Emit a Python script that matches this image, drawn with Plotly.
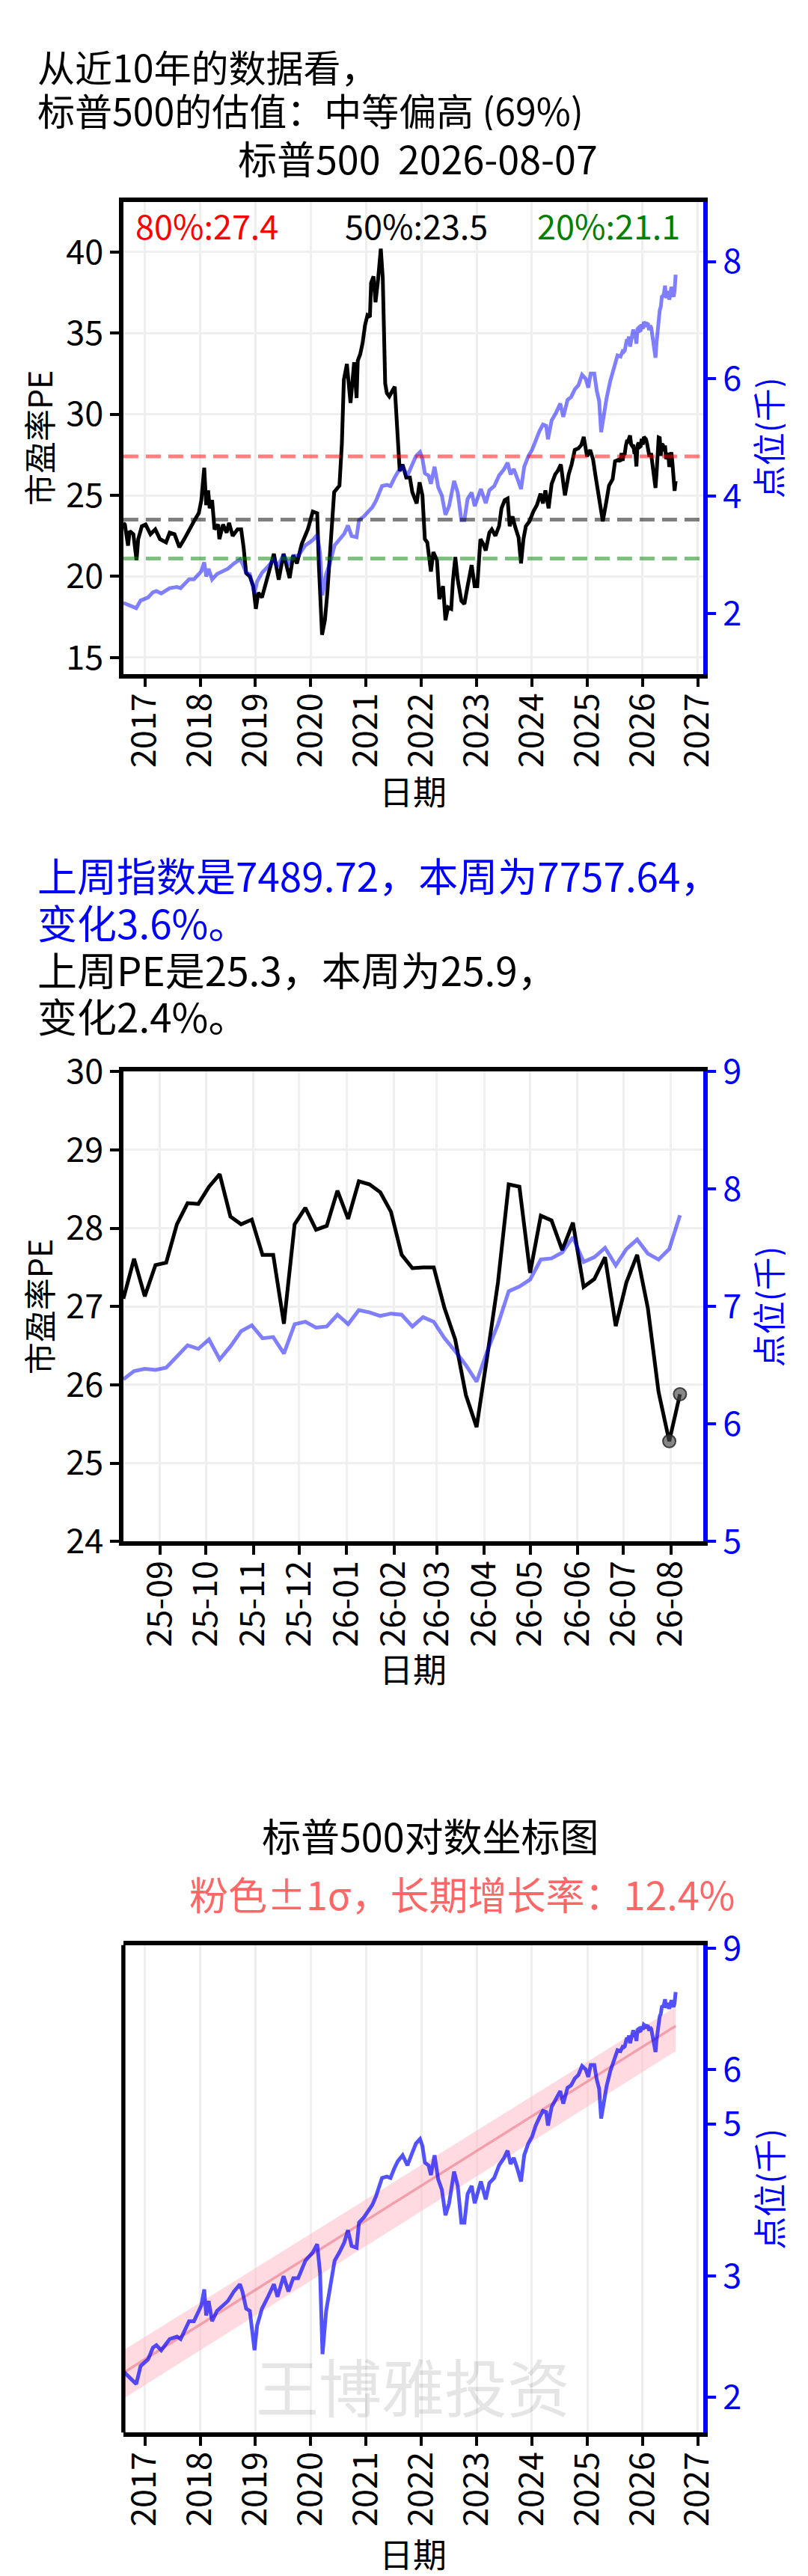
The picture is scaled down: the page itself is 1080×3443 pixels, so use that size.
import math
import pandas as pd
import plotly.graph_objects as go

W, H = 1080, 3443
FONT = "Noto Sans CJK SC"

# ---------------- data ----------------
PE_HIST_DATES = [
    "2016-08-12", "2016-08-22", "2016-09-12", "2016-09-23", "2016-10-17", "2016-11-07", "2016-11-18",
    "2016-12-12", "2017-01-06", "2017-02-07", "2017-03-11", "2017-04-11", "2017-05-21", "2017-06-14",
    "2017-07-16", "2017-08-17", "2017-09-18", "2017-10-20", "2017-11-21", "2017-12-23", "2018-01-09",
    "2018-01-28", "2018-02-10", "2018-02-23", "2018-03-05", "2018-03-21", "2018-04-06", "2018-04-30",
    "2018-05-08", "2018-06-01", "2018-06-25", "2018-07-11", "2018-08-04", "2018-09-05", "2018-09-29",
    "2018-10-15", "2018-11-01", "2018-11-25", "2018-12-18", "2019-01-04", "2019-01-20", "2019-02-13",
    "2019-03-08", "2019-04-01", "2019-05-03", "2019-06-04", "2019-07-06", "2019-08-15", "2019-09-08",
    "2019-10-02", "2019-11-03", "2019-12-13", "2020-01-15", "2020-02-13", "2020-02-24", "2020-03-16",
    "2020-04-04", "2020-04-20", "2020-05-06", "2020-05-22", "2020-06-04", "2020-07-09", "2020-07-25",
    "2020-08-07", "2020-08-27", "2020-09-20", "2020-10-14", "2020-10-30", "2020-11-07", "2020-11-23",
    "2020-12-09", "2020-12-25", "2021-01-10", "2021-01-26", "2021-02-03", "2021-02-19", "2021-03-04",
    "2021-03-20", "2021-04-08", "2021-04-21", "2021-05-07", "2021-05-18", "2021-06-03", "2021-07-09",
    "2021-07-29", "2021-08-11", "2021-08-30", "2021-09-23", "2021-10-17", "2021-11-02", "2021-12-01",
    "2021-12-20", "2022-01-08", "2022-01-24", "2022-02-09", "2022-03-05", "2022-03-21", "2022-04-14",
    "2022-04-30", "2022-05-24", "2022-06-09", "2022-06-26", "2022-07-17", "2022-07-28", "2022-08-13",
    "2022-08-29", "2022-09-22", "2022-10-12", "2022-11-02", "2022-11-29", "2022-12-19", "2023-01-05",
    "2023-01-26", "2023-02-14", "2023-03-02", "2023-03-26", "2023-04-11", "2023-05-05", "2023-05-29",
    "2023-06-14", "2023-07-05", "2023-07-24", "2023-08-07", "2023-08-26", "2023-09-11", "2023-10-05",
    "2023-10-21", "2023-11-06", "2023-11-22", "2023-12-16", "2024-01-10", "2024-02-03", "2024-02-27",
    "2024-03-14", "2024-03-30", "2024-04-20", "2024-05-10", "2024-06-03", "2024-06-19", "2024-07-10",
    "2024-08-06", "2024-08-31", "2024-09-19", "2024-10-10", "2024-11-03", "2024-11-22", "2024-12-08",
    "2024-12-30", "2025-01-20", "2025-02-08", "2025-02-24", "2025-03-20", "2025-04-13", "2025-05-08",
    "2025-05-24", "2025-06-17", "2025-07-03", "2025-07-27",
]
PE_HIST = [
    23.3, 23.2, 21.9, 22.8, 22.6, 21.0, 22.3,
    23.1, 23.2, 22.6, 22.9, 22.3, 22.1, 22.7,
    22.6, 21.8, 22.3, 22.9, 23.4, 23.9, 24.7,
    26.7, 24.4, 25.3, 24.2, 24.7, 22.9, 23.2,
    22.3, 23.2, 22.7, 23.3, 22.5, 22.9, 22.9,
    21.8, 20.2, 20.0, 19.4, 18.0, 19.0, 18.7,
    19.5, 20.5, 21.4, 19.8, 21.4, 19.9, 21.3,
    20.8, 22.0, 22.9, 24.0, 23.9, 20.7, 16.4,
    17.3, 19.0, 21.5, 23.1, 25.2, 25.6, 28.2,
    32.1, 33.1, 30.7, 33.2, 31.0, 33.3, 33.7,
    34.4, 35.5, 36.1, 36.0, 38.1, 38.5, 36.9,
    38.2, 40.2, 38.4, 31.9, 31.3, 31.1, 31.7,
    28.5, 26.5, 26.9, 26.1, 26.1, 25.2, 24.5,
    25.8, 25.0, 22.3, 22.1, 20.3, 21.5, 21.0,
    18.6, 19.4, 17.3, 18.1, 18.0, 19.7, 21.2,
    19.8, 18.5, 18.3, 19.4, 20.7, 19.4, 19.4,
    22.3, 22.0, 21.6, 22.7, 22.9, 22.5, 23.1,
    24.2, 24.7, 24.8, 23.1, 23.7, 23.1, 22.4,
    20.8, 22.3, 23.1, 23.4, 24.0, 24.4, 25.1,
    24.5, 25.3, 24.2, 25.7, 26.3, 26.5, 26.9,
    25.0, 26.3, 26.9, 27.8, 27.9, 28.1, 28.6,
    27.4, 27.8, 27.2, 26.2, 24.8, 23.4, 24.7,
    25.6, 26.0, 27.1, 27.2,
]

PX_HIST_DATES = [
    "2016-08-12", "2016-10-01", "2016-11-05", "2016-12-04", "2017-01-22", "2017-02-23", "2017-03-18",
    "2017-04-19", "2017-06-14", "2017-08-01", "2017-08-25", "2017-10-20", "2017-11-21", "2017-12-23",
    "2018-01-09", "2018-01-28", "2018-02-10", "2018-02-26", "2018-03-21", "2018-04-22", "2018-06-01",
    "2018-07-03", "2018-08-12", "2018-09-21", "2018-10-07", "2018-11-01", "2018-11-25", "2018-12-26",
    "2019-01-12", "2019-02-13", "2019-03-25", "2019-05-03", "2019-05-27", "2019-07-06", "2019-08-07",
    "2019-09-08", "2019-10-10", "2019-11-27", "2020-01-15", "2020-02-13", "2020-03-03", "2020-03-19",
    "2020-04-12", "2020-05-06", "2020-06-07", "2020-07-09", "2020-08-10", "2020-09-03", "2020-09-27",
    "2020-10-30", "2020-11-15", "2020-12-16", "2021-01-18", "2021-02-11", "2021-03-07", "2021-04-16",
    "2021-05-18", "2021-06-11", "2021-07-05", "2021-07-29", "2021-08-30", "2021-10-01", "2021-11-02",
    "2021-11-26", "2021-12-23", "2022-01-08", "2022-01-24", "2022-02-17", "2022-03-05", "2022-03-29",
    "2022-04-22", "2022-05-16", "2022-06-09", "2022-07-03", "2022-08-05", "2022-08-29", "2022-09-22",
    "2022-10-12", "2022-11-02", "2022-11-29", "2022-12-19", "2023-01-29", "2023-03-02", "2023-03-26",
    "2023-04-27", "2023-05-29", "2023-07-01", "2023-07-24", "2023-08-13", "2023-09-03", "2023-09-27",
    "2023-10-21", "2023-11-11", "2023-12-08", "2024-01-02", "2024-01-26", "2024-02-20", "2024-03-14",
    "2024-04-04", "2024-04-16", "2024-05-10", "2024-06-08", "2024-07-06", "2024-07-26", "2024-08-23",
    "2024-09-16", "2024-10-10", "2024-11-03", "2024-11-27", "2024-12-21", "2025-01-07", "2025-01-23",
    "2025-02-16", "2025-03-04", "2025-03-20", "2025-04-02", "2025-04-18", "2025-05-08", "2025-06-01",
    "2025-06-30", "2025-07-19",
]
PX_HIST = [
    2.18, 2.13, 2.09, 2.22, 2.27, 2.36, 2.38,
    2.34, 2.43, 2.45, 2.43, 2.58, 2.58, 2.67,
    2.72, 2.87, 2.63, 2.76, 2.58, 2.67, 2.72,
    2.76, 2.85, 2.92, 2.85, 2.69, 2.67, 2.34,
    2.54, 2.69, 2.80, 2.92, 2.80, 3.00, 2.85,
    2.98, 2.98, 3.16, 3.25, 3.34, 3.03, 2.31,
    2.67, 2.85, 3.16, 3.25, 3.36, 3.50, 3.32,
    3.30, 3.59, 3.65, 3.74, 3.81, 3.92, 4.17,
    4.19, 4.17, 4.30, 4.41, 4.50, 4.35, 4.54,
    4.68, 4.75, 4.64, 4.39, 4.35, 4.21, 4.50,
    4.15, 4.01, 3.68, 3.83, 4.26, 4.06, 3.59,
    3.59, 3.95, 4.06, 3.83, 4.12, 3.88, 4.10,
    4.17, 4.35, 4.46, 4.57, 4.37, 4.46, 4.30,
    4.12, 4.50, 4.68, 4.79, 4.97, 5.11, 5.22,
    5.20, 4.97, 5.29, 5.42, 5.58, 5.35, 5.64,
    5.69, 5.82, 5.89, 6.07, 6.00, 5.85, 6.09,
    6.09, 5.80, 5.62, 5.09, 5.35, 5.67, 5.96,
    6.25, 6.40,
]

# last 53 weekly closes (2025-08-08 .. 2026-08-07)
WEEK_DATES = list(pd.date_range("2025-08-08", "2026-08-07", freq="7D").strftime("%Y-%m-%d"))
WEEK_PE = [
    27.10, 27.61, 27.13, 27.53, 27.56, 28.05, 28.32, 28.31, 28.53, 28.69,
    28.15, 28.05, 28.11, 27.66, 27.66, 26.78, 28.05, 28.26, 27.98, 28.03,
    28.48, 28.12, 28.60, 28.56, 28.46, 28.21, 27.66, 27.49, 27.50, 27.50,
    26.98, 26.58, 25.87, 25.46, 26.37, 27.31, 28.56, 28.53, 27.43, 28.16,
    28.10, 27.72, 28.07, 27.25, 27.35, 27.63, 26.75, 27.31, 27.66, 26.98,
    25.91, 25.28, 25.88,
]
WEEK_PX = [
    6.38, 6.45, 6.47, 6.46, 6.48, 6.58, 6.67, 6.64, 6.72, 6.55,
    6.66, 6.79, 6.84, 6.73, 6.74, 6.60, 6.85, 6.87, 6.82, 6.83,
    6.93, 6.85, 6.97, 6.95, 6.92, 6.94, 6.93, 6.83, 6.91, 6.87,
    6.73, 6.62, 6.50, 6.36, 6.62, 6.85, 7.13, 7.17, 7.23, 7.40,
    7.41, 7.46, 7.59, 7.38, 7.42, 7.50, 7.35, 7.49, 7.57, 7.45,
    7.40, 7.49, 7.7764,
]

PCT_LABELS = ["80%:27.4", "50%:23.5", "20%:21.1"]
PCT_VALUES = [27.4, 23.5, 21.1]

YEAR_TICKS = [f"{y}-01-01" for y in range(2017, 2028)]
YEAR_LABELS = [str(y) for y in range(2017, 2028)]
MONTH_TICKS = ["2025-09-01", "2025-10-01", "2025-11-01", "2025-12-01", "2026-01-01", "2026-02-01",
               "2026-03-01", "2026-04-01", "2026-05-01", "2026-06-01", "2026-07-01", "2026-08-01"]
MONTH_LABELS = ["25-09", "25-10", "25-11", "25-12", "26-01", "26-02",
                "26-03", "26-04", "26-05", "26-06", "26-07", "26-08"]

PE_TICKS1 = [15, 20, 25, 30, 35, 40]
PX_TICKS1 = [2, 4, 6, 8]
PE_TICKS2 = [24, 25, 26, 27, 28, 29, 30]
PX_TICKS2 = [5, 6, 7, 8, 9]
LOG_TICKS = [2, 3, 5, 6, 9]

TREND_DATES = ["2016-08-12", "2026-08-07"]
TREND_MID = [2.17, 6.94]
TREND_UP = [2.34, 7.40]
TREND_LO = [1.99, 6.38]

ALL_PE_DATES = PE_HIST_DATES + WEEK_DATES
ALL_PE = PE_HIST + WEEK_PE
ALL_PX_DATES = PX_HIST_DATES + WEEK_DATES
ALL_PX = PX_HIST + WEEK_PX

# ---------------- layout helpers (pixels -> paper) ----------------
def fx(px):
    return px / W

def fy(px):
    return 1 - px / H

X0, X1 = 153, 949
C1 = (230, 873)
C2 = (1415, 2055)
C3 = (2605, 3269)

TICKF = 45
LW = 5.5
SW = 5
GRID = "#efefef"
BLUE = "#0000ff"

fig = go.Figure()

# ---- chart 1 ----
fig.add_trace(go.Scatter(x=ALL_PE_DATES, y=ALL_PE, mode="lines", line=dict(color="black", width=SW),
                         xaxis="x", yaxis="y", showlegend=False))
fig.add_trace(go.Scatter(x=ALL_PX_DATES, y=ALL_PX, mode="lines",
                         line=dict(color="rgba(0,0,255,0.5)", width=SW),
                         xaxis="x", yaxis="y2", showlegend=False))

pct_colors = ["rgba(255,0,0,0.5)", "rgba(0,0,0,0.5)", "rgba(0,128,0,0.5)"]
for v, c in zip(PCT_VALUES, pct_colors):
    fig.add_shape(type="line", xref="x domain", yref="y", x0=0, x1=1, y0=v, y1=v,
                  line=dict(color=c, width=5, dash="20px,10px"))

# ---- chart 2 ----
fig.add_trace(go.Scatter(x=WEEK_DATES, y=WEEK_PE, mode="lines", line=dict(color="black", width=SW),
                         xaxis="x2", yaxis="y3", showlegend=False))
fig.add_trace(go.Scatter(x=WEEK_DATES[-2:], y=WEEK_PE[-2:], mode="markers",
                         marker=dict(size=17, color="rgba(70,70,70,0.65)",
                                     line=dict(color="rgba(30,30,30,0.8)", width=2)),
                         xaxis="x2", yaxis="y3", showlegend=False))
fig.add_trace(go.Scatter(x=WEEK_DATES, y=WEEK_PX, mode="lines",
                         line=dict(color="rgba(0,0,255,0.5)", width=SW),
                         xaxis="x2", yaxis="y4", showlegend=False))

# ---- chart 3 ----
fig.add_trace(go.Scatter(x=TREND_DATES, y=TREND_UP, mode="lines", line=dict(width=0),
                         xaxis="x3", yaxis="y5", showlegend=False))
fig.add_trace(go.Scatter(x=TREND_DATES, y=TREND_LO, mode="lines", line=dict(width=0),
                         fill="tonexty", fillcolor="rgba(255,182,193,0.5)",
                         xaxis="x3", yaxis="y5", showlegend=False))
fig.add_trace(go.Scatter(x=TREND_DATES, y=TREND_MID, mode="lines",
                         line=dict(color="rgba(235,120,135,0.6)", width=3.5),
                         xaxis="x3", yaxis="y5", showlegend=False))
fig.add_trace(go.Scatter(x=ALL_PX_DATES, y=ALL_PX, mode="lines",
                         line=dict(color="rgba(0,0,255,0.68)", width=SW),
                         xaxis="x3", yaxis="y5", showlegend=False))
fig.add_shape(type="line", xref="x3 domain", yref="y5 domain", x0=0, x1=0, y0=0, y1=1,
              line=dict(color="black", width=LW))

common_x = dict(type="date", showline=True, linecolor="black", linewidth=LW, mirror=True,
                ticks="outside", ticklen=12, tickwidth=4, tickcolor="black", ticklabelstandoff=-10,
                tickangle=-90, tickfont=dict(size=TICKF, color="black", family=FONT),
                showgrid=True, gridcolor=GRID, gridwidth=3, zeroline=False)
left_y = dict(showline=True, linecolor="black", linewidth=LW, mirror=False,
              ticks="outside", ticklen=12, tickwidth=4, tickcolor="black",
              tickfont=dict(size=TICKF, color="black", family=FONT),
              showgrid=True, gridcolor=GRID, gridwidth=3, zeroline=False)
right_y = dict(side="right", showline=True, linecolor=BLUE, linewidth=LW,
               ticks="outside", ticklen=12, tickwidth=4, tickcolor=BLUE,
               tickfont=dict(size=TICKF, color=BLUE, family=FONT),
               showgrid=False, zeroline=False)

fig.update_layout(
    width=W, height=H, margin=dict(l=0, r=0, t=0, b=0),
    paper_bgcolor="white", plot_bgcolor="white",
    font=dict(family=FONT, color="black"),
    xaxis=dict(**common_x, domain=[fx(X0), fx(X1)], anchor="y",
               range=["2016-08-12", "2027-02-03"], tickvals=YEAR_TICKS, ticktext=YEAR_LABELS),
    yaxis=dict(**left_y, domain=[fy(C1[1]), fy(C1[0])], anchor="x", range=[14.0, 43.1],
               tickvals=PE_TICKS1),
    yaxis2=dict(**right_y, overlaying="y", anchor="x", range=[0.97, 9.02], tickvals=PX_TICKS1),
    xaxis2=dict(**common_x, domain=[fx(X0), fx(X1)], anchor="y3",
                range=["2025-08-08", "2026-08-22"], tickvals=MONTH_TICKS, ticktext=MONTH_LABELS),
    yaxis3=dict(**left_y, domain=[fy(C2[1]), fy(C2[0])], anchor="x2", range=[24, 30],
                tickvals=PE_TICKS2),
    yaxis4=dict(**right_y, overlaying="y3", anchor="x2", range=[5, 9], tickvals=PX_TICKS2),
    xaxis3=dict(**common_x, domain=[fx(X0), fx(X1)], anchor="y5",
                range=["2016-08-12", "2027-02-03"], tickvals=YEAR_TICKS, ticktext=YEAR_LABELS),
    yaxis5=dict(**right_y, type="log", domain=[fy(C3[1]), fy(C3[0])], anchor="x3",
                range=[math.log10(1.776), math.log10(9.1)], tickvals=LOG_TICKS,
                ticktext=[str(t) for t in LOG_TICKS]),
)

def note(text, x, y, size=45, color="black", xanchor="center", angle=0, height=None):
    kw = {}
    if height is not None:
        kw["height"] = height
    fig.add_annotation(text=text, x=fx(x), y=fy(y), xref="paper", yref="paper",
                       xanchor=xanchor, yanchor="middle", showarrow=False, textangle=angle,
                       font=dict(size=size, color=color, family=FONT), **kw)

# headline
note("从近10年的数据看，", 33, 45, size=50, xanchor="left", height=56)
note("标普500的估值：中等偏高 (69%)", 33, 104, size=50, xanchor="left", height=56)
note("标普500\u00a0\u00a02026-08-07", 557, 170, size=52)

# percentile labels
note(PCT_LABELS[0], 168, 261, color="#ff0000", xanchor="left")
note(PCT_LABELS[1], 555, 261, color="black")
note(PCT_LABELS[2], 920, 261, color="#008000", xanchor="right")

# axis titles
for (top, bot), xt in [(C1, 1032), (C2, 2228)]:
    mid = (top + bot) / 2
    note("市盈率PE", 36, mid, size=43, angle=-90, height=48)
    note("点位(千)", 1038, mid, size=44, color=BLUE, angle=-90, height=48)
    note("日期", 551, xt)
note("点位(千)", 1038, (C3[0] + C3[1]) / 2, size=44, color=BLUE, angle=-90, height=48)
note("日期", 551, 3433)

# weekly change text
note("上周指数是7489.72，本周为7757.64，", 33, 1147, size=53, color=BLUE, xanchor="left", height=60)
note("变化3.6%。", 33, 1211, size=53, color=BLUE, xanchor="left", height=60)
note("上周PE是25.3，本周为25.9，", 33, 1275, size=53, xanchor="left", height=60)
note("变化2.4%。", 33, 1338, size=53, xanchor="left", height=60)

# chart 3 titles and watermark
note("标普500对数坐标图", 575, 2455, size=52)
note("粉色±1σ，长期增长率：12.4%", 618, 2534, size=52, color="#ff6666")
note("王博雅投资", 551, 3204, size=84, color="rgba(0,0,0,0.10)")

fig.write_html("out.html")
